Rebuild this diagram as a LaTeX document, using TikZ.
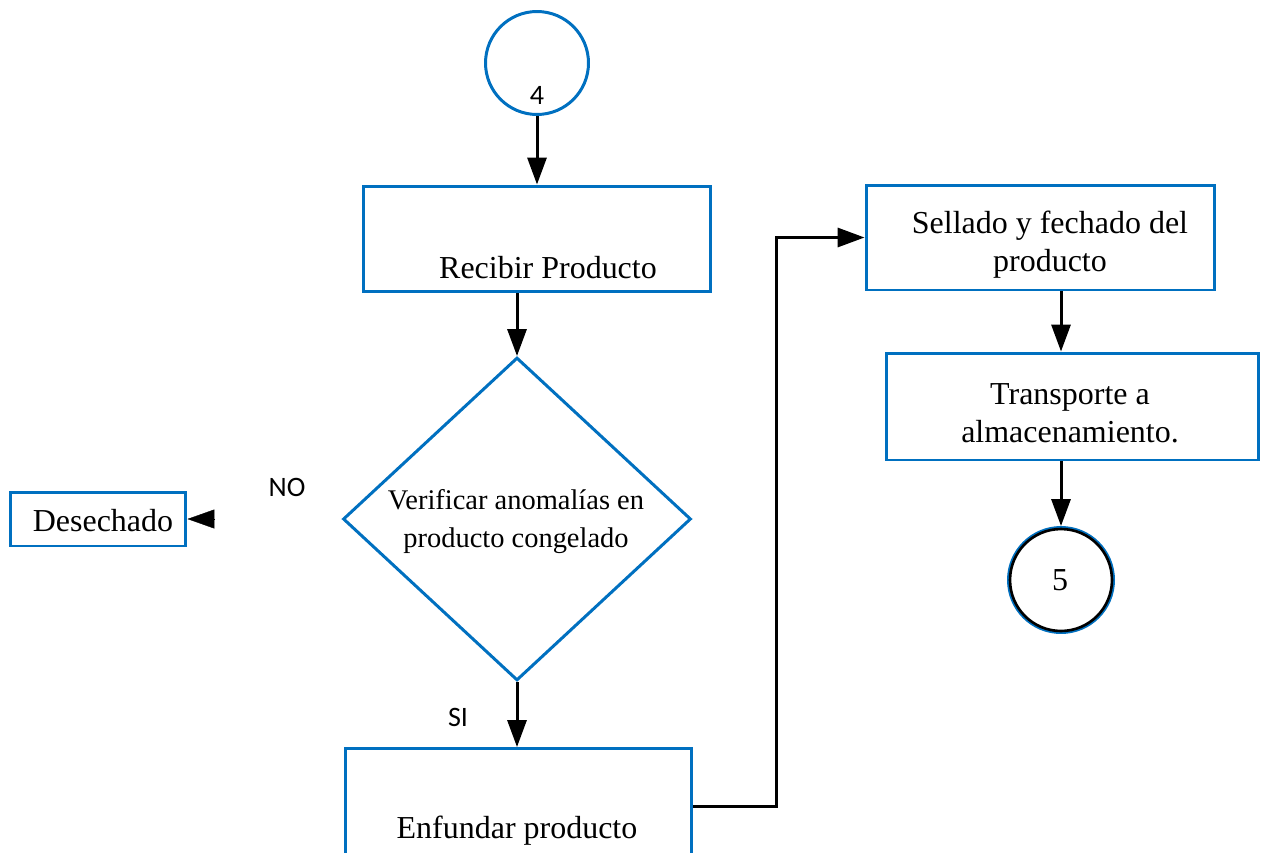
\documentclass[tikz,border=0pt]{standalone}
\usepackage{fontspec}
\setmainfont{Liberation Serif}
\newfontfamily\labelfont{Carlito}
\usetikzlibrary{arrows.meta,shapes.geometric}
\definecolor{boxblue}{RGB}{0,112,192}
\begin{document}
\begin{tikzpicture}[x=0.02cm,y=-0.02cm,
  box/.style={draw=boxblue, line width=1.7pt, rectangle, inner sep=0pt},
  txt/.style={font=\fontsize{18.2}{21.6}\selectfont, align=center, inner sep=0pt},
  smalltxt/.style={font=\fontsize{16.2}{21.6}\selectfont, align=center, inner sep=0pt},
  lbl/.style={font=\labelfont\fontsize{16}{19}\selectfont, inner sep=0pt},
  flow/.style={draw=black, line width=1.7pt, -{Triangle[length=15.3pt,width=10.8pt]}},
]
\clip (0,0) rectangle (1264,852);
\fill[white] (0,0) rectangle (1264,852);

% connector 4 and the first step
\node[box, circle, minimum size=2.06cm] (c4) at (537,63) {};
\node[lbl] (t4) at (537,95) {4};
\node[box, minimum width=6.96cm, minimum height=2.12cm] (rec) at (537,239) {};
\node[txt] (trec) at (548,268) {Recibir Producto};

% decision
\node[draw=boxblue, line width=1.7pt, diamond, minimum width=6.96cm, minimum height=6.46cm, inner sep=0pt] (dia) at (517,519) {};
\node[smalltxt] (tdia) at (516,522) {Verificar anomalías en\\producto congelado};

% bagging
\node[box, minimum width=6.94cm, minimum height=2.3cm] (enf) at (518.5,806) {};
\node[txt] (tenf) at (517,831) {Enfundar producto};

% sealing and transport
\node[box, minimum width=6.98cm, minimum height=2.1cm] (sel) at (1040.5,237.5) {};
\node[txt] (tsel) at (1050,245) {Sellado y fechado del\\producto};
\node[box, minimum width=7.46cm, minimum height=2.14cm] (tra) at (1072.5,406.5) {};
\node[txt] (ttra) at (1070,413) {Transporte a\\almacenamiento.};

% connector 5
\node[circle, draw=boxblue, line width=1.7pt, minimum size=2.1cm, inner sep=0pt] (c5) at (1061,580) {};
\draw[black, line width=1.5pt] (c5.center) circle[radius=1.02cm];
\node[txt] (t5) at (1060,580) {5};

% rejected product: only the arrow head is shown
\node[box, minimum width=3.52cm, minimum height=1.08cm] (des) at (98,519) {};
\node[txt] (tdes) at (103,521) {Desechado};
\coordinate (nobase) at (215,519);
\draw[flow, line width=0.2pt] (nobase) -- (des.east);
\node[lbl] (lno) at (287,487) {NO};
\node[lbl] (lsi) at (458,717) {SI};

% flow lines
\draw[flow] (c4.south) -- (rec.north);
\draw[flow] (rec.south -| dia.north) -- (dia.north);
\draw[flow] (dia.south) -- (enf.north -| dia.south);
\coordinate (jog) at (776,0);
\draw[flow] (enf.east) -| (jog |- sel.west) -- (sel.west);
\draw[flow] (sel.south -| c5.north) -- (tra.north -| c5.north);
\draw[flow] (tra.south -| c5.north) -- (c5.north);
\end{tikzpicture}
\end{document}
